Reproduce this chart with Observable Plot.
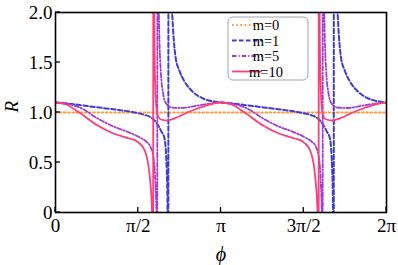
<!DOCTYPE html>
<html>
<head>
<meta charset="utf-8">
<script src="https://cdn.jsdelivr.net/npm/d3@7"></script>
<script src="https://cdn.jsdelivr.net/npm/@observablehq/plot@0.6"></script>
<style>
  html, body { margin: 0; padding: 0; background: #fff; }
  svg { display: block; }
  svg text { font-family: "Liberation Serif", "Times New Roman", Times, "DejaVu Serif", serif !important; }
</style>
</head>
<body>
<div id="chart"></div>
<script>
// Series: [phi, R]
const m0 = [[0, 1.0], [6.2832, 1.0]];

const m1 = [
  [0,1.10],[0.3,1.085],[0.6,1.065],[0.9,1.045],[1.2,1.025],[1.5,1.0],[1.7,0.975],[1.8,0.955],
  [1.88,0.92],[1.95,0.87],[2.02,0.8],[2.06,0.76],[2.09,0.65],[2.11,0.45],[2.125,0.15],[2.135,-1],
  [2.14,-4],[2.145,5],[2.17,3],[2.2,2.2],[2.23,1.85],[2.28,1.55],[2.35,1.42],[2.45,1.31],[2.6,1.21],
  [2.8,1.14],[3.0,1.11],[3.14,1.10],
  [3.44,1.085],[3.74,1.065],[4.04,1.045],[4.34,1.025],[4.64,1.0],[4.84,0.975],[4.94,0.955],
  [5.02,0.92],[5.09,0.87],[5.16,0.8],[5.20,0.76],[5.23,0.65],[5.25,0.45],[5.265,0.15],[5.275,-1],
  [5.28,-4],[5.285,5],[5.31,3],[5.34,2.2],[5.37,1.85],[5.42,1.55],[5.49,1.42],[5.59,1.31],[5.74,1.21],
  [5.94,1.14],[6.14,1.11],[6.2832,1.10]
];

const m5 = [
  [0,1.10],[0.2,1.09],[0.5,1.04],[0.8,0.94],[1.1,0.86],[1.4,0.80],[1.6,0.75],[1.72,0.71],[1.80,0.66],
  [1.85,0.58],[1.88,0.45],[1.90,0.25],[1.915,0],[1.925,-1],[1.93,-4],[1.935,5],[1.95,2.5],[1.97,1.8],
  [2.0,1.4],[2.04,1.2],[2.1,1.09],[2.2,1.05],[2.4,1.045],[2.7,1.07],[2.95,1.09],[3.14,1.10],
  [3.34,1.09],[3.64,1.04],[3.94,0.94],[4.24,0.86],[4.54,0.80],[4.74,0.75],[4.86,0.71],[4.94,0.66],
  [4.99,0.58],[5.02,0.45],[5.04,0.25],[5.055,0],[5.065,-1],[5.07,-4],[5.075,5],[5.09,2.5],[5.11,1.8],
  [5.14,1.4],[5.18,1.2],[5.24,1.09],[5.34,1.05],[5.54,1.045],[5.84,1.07],[6.09,1.09],[6.2832,1.10]
];

const m10 = [
  [0,1.10],[0.2,1.08],[0.45,1.00],[0.8,0.87],[1.1,0.79],[1.4,0.74],[1.55,0.71],[1.65,0.66],[1.72,0.58],
  [1.77,0.45],[1.80,0.30],[1.83,0.05],[1.845,-0.5],[1.852,-3],[1.858,5],[1.87,2.2],[1.88,1.6],
  [1.895,1.25],[1.915,1.05],[1.95,0.96],[2.0,0.93],[2.12,0.92],[2.3,0.95],[2.5,1.0],[2.75,1.05],
  [3.0,1.09],[3.14,1.10],
  [3.34,1.08],[3.59,1.00],[3.94,0.87],[4.24,0.79],[4.54,0.74],[4.69,0.71],[4.79,0.66],[4.86,0.58],
  [4.91,0.45],[4.94,0.30],[4.97,0.05],[4.985,-0.5],[4.993,-3],[4.999,5],[5.01,2.2],[5.02,1.6],
  [5.035,1.25],[5.055,1.05],[5.09,0.96],[5.14,0.93],[5.26,0.92],[5.44,0.95],[5.64,1.0],[5.89,1.05],
  [6.14,1.09],[6.2832,1.10]
];

const xTicks = [0, Math.PI / 2, Math.PI, 3 * Math.PI / 2, 2 * Math.PI];
const xTickLabels = ["0", "π/2", "π", "3π/2", "2π"];
const yTicks = [0, 0.5, 1.0, 1.5, 2.0];
const yTickLabels = ["0", "0.5", "1.0", "1.5", "2.0"];

const seriesNames = ["m=0", "m=1", "m=5", "m=10"];
const colors = ["#ff9a3c", "#3c3cd0", "#a23ad8", "#ff3d7a"];
const dashes = ["1.6,2.6", "4.5,2.5", "4.5,2,1.2,2", null];
const widths = [2, 2, 1.8, 1.8];

const font = '"Liberation Serif", "Times New Roman", Times, "DejaVu Serif", serif';
const fx = d => d[0], fy = d => d[1];

const chart = Plot.plot({
  width: 398,
  height: 265,
  marginLeft: 55,
  marginRight: 12,
  marginTop: 12,
  marginBottom: 53,
  style: { fontFamily: font, fontSize: "18px", background: "#fff", color: "#000" },
  x: { domain: [0, 2 * Math.PI] },
  y: { domain: [0, 2] },
  marks: [
    Plot.line(m0, { x: fx, y: fy, stroke: colors[0], strokeWidth: widths[0], strokeDasharray: dashes[0], clip: true }),
    Plot.line(m1, { x: fx, y: fy, stroke: colors[1], strokeWidth: widths[1], strokeDasharray: dashes[1], curve: "monotone-x", clip: true }),
    Plot.line(m5, { x: fx, y: fy, stroke: colors[2], strokeWidth: widths[2], strokeDasharray: dashes[2], curve: "monotone-x", clip: true }),
    Plot.line(m10, { x: fx, y: fy, stroke: colors[3], strokeWidth: widths[3], curve: "monotone-x", clip: true }),
    Plot.axisX({ ticks: xTicks, tickFormat: (d, i) => xTickLabels[i], tickSize: 0, tickPadding: 6, fontSize: 19, label: null }),
    Plot.axisY({ ticks: yTicks, tickFormat: (d, i) => yTickLabels[i], tickSize: 0, tickPadding: 3, fontSize: 19, label: null }),
    Plot.frame({ stroke: "black", strokeWidth: 1.6 }),
    Plot.text(["R"], { frameAnchor: "left", dx: -44, rotate: -90, fontStyle: "italic", fontSize: 19, lineAnchor: "middle" }),
    Plot.text(["ϕ"], { frameAnchor: "bottom", dy: 42, fontStyle: "italic", fontSize: 20, lineAnchor: "middle" })
  ]
});

document.getElementById("chart").appendChild(chart);

// inward ticks drawn from the scales
const sx = chart.scale("x"), sy = chart.scale("y");
const svg = d3.select(chart);
const g = svg.append("g").attr("stroke", "black").attr("stroke-width", 1.3);
const y0 = sy.apply(0), x0 = sx.apply(0);
xTicks.forEach(v => g.append("line").attr("x1", sx.apply(v)).attr("x2", sx.apply(v)).attr("y1", y0).attr("y2", y0 - 5));
yTicks.forEach(v => g.append("line").attr("x1", x0).attr("x2", x0 + 5).attr("y1", sy.apply(v)).attr("y2", sy.apply(v)));

// legend
const lg = svg.append("g").attr("font-size", 14.5);
lg.append("rect").attr("x", 228).attr("y", 17).attr("width", 80).attr("height", 63)
  .attr("rx", 5).attr("fill", "white").attr("fill-opacity", 0.9).attr("stroke", "#a0a6aa").attr("stroke-width", 1);
seriesNames.forEach((name, i) => {
  const yy = 25 + i * 15.5;
  lg.append("line").attr("x1", 232).attr("x2", 262).attr("y1", yy).attr("y2", yy)
    .attr("stroke", colors[i]).attr("stroke-width", widths[i]).attr("stroke-dasharray", dashes[i]);
  lg.append("text").attr("x", 266).attr("y", yy).attr("dy", "0.35em").text(name);
});
svg.selectAll("text").style("font-family", font);
</script>
</body>
</html>
